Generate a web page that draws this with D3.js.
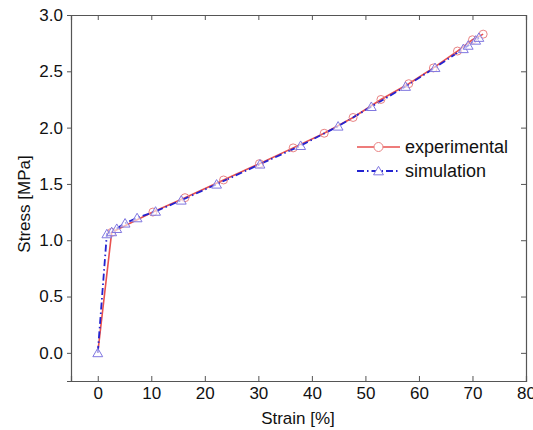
<!DOCTYPE html>
<html>
<head>
<meta charset="utf-8">
<script src="https://cdn.jsdelivr.net/npm/d3@7"></script>
<style>
  html, body { margin: 0; padding: 0; background: #fff; }
  svg { display: block; font-family: "Liberation Sans", Arial, sans-serif; }
</style>
</head>
<body>
<svg id="chart" width="533" height="430"></svg>
<script>
// Tensile test: experimental curve vs. simulation
const expStrain = [0, 2.6, 10.3, 16.3, 23.5, 30.2, 36.5, 42.3, 47.7, 52.9, 58.1, 62.7, 67.2, 70.0, 72.0];
const expStress = [0, 1.07, 1.25, 1.378, 1.535, 1.68, 1.82, 1.95, 2.09, 2.25, 2.39, 2.53, 2.68, 2.78, 2.83];

const simStrain = [0, 1.7, 2.6, 3.55, 5.1, 7.35, 10.8, 15.6, 22.2, 30.3, 37.9, 44.9, 51.1, 57.5, 63.0, 68.3, 69.2, 70.6, 71.2];
const simStress = [0, 1.056, 1.074, 1.103, 1.151, 1.198, 1.256, 1.355, 1.497, 1.675, 1.84, 2.012, 2.186, 2.365, 2.532, 2.70, 2.73, 2.775, 2.80];

const xTicks = [0, 10, 20, 30, 40, 50, 60, 70, 80];
const yTicks = [0.0, 0.5, 1.0, 1.5, 2.0, 2.5, 3.0];
const seriesNames = ["experimental", "simulation"];

const svg = d3.select("#chart");
const m = { left: 71, top: 15, right: 526, bottom: 381 };

const x = d3.scaleLinear().domain([-5, 80]).range([m.left, m.right]);
const y = d3.scaleLinear().domain([-0.25, 3.0]).range([m.bottom, m.top]);

const frameColor = "#555";
const tickFont = 17;

// Bottom axis (ticks inward)
const gx = svg.append("g").attr("transform", `translate(0,${m.bottom})`)
  .call(d3.axisBottom(x).tickValues(xTicks).tickSize(-5).tickPadding(6).tickFormat(d3.format("d")));
// Left axis (ticks outward)
const gy = svg.append("g").attr("transform", `translate(${m.left},0)`)
  .call(d3.axisLeft(y).tickValues(yTicks).tickSize(4).tickPadding(4).tickFormat(d3.format(".1f")));
// Top and right mirror axes, ticks inward, no labels
const gt = svg.append("g").attr("transform", `translate(0,${m.top})`)
  .call(d3.axisTop(x).tickValues(xTicks).tickSize(-5).tickFormat(""));
const gr = svg.append("g").attr("transform", `translate(${m.right},0)`)
  .call(d3.axisRight(y).tickValues(yTicks).tickSize(-5).tickFormat(""));

[gx, gy, gt, gr].forEach(g => {
  g.select(".domain").attr("stroke", frameColor).attr("stroke-width", 1.2);
  g.selectAll(".tick line").attr("stroke", frameColor).attr("stroke-width", 1);
  g.selectAll(".tick text").attr("fill", "#111").attr("font-size", tickFont)
    .attr("font-family", "'Liberation Sans', Arial, sans-serif");
});

// Axis titles
svg.append("text").attr("x", 298).attr("y", 424)
  .attr("text-anchor", "middle").attr("font-size", 17).attr("fill", "#111")
  .text("Strain [%]");
svg.append("text").attr("transform", `translate(30,204) rotate(-90)`)
  .attr("text-anchor", "middle").attr("font-size", 17).attr("fill", "#111")
  .text("Stress [MPa]");

const expColor = "#e8514f";
const expMarker = "#e98383";
const simColor = "#2323d0";
const simMarker = "#8077e0";
const simDash = "7,3,1.5,3";

const expData = expStrain.map((s, i) => [s, expStress[i]]);
const simData = simStrain.map((s, i) => [s, simStress[i]]);
const line = d3.line().x(d => x(d[0])).y(d => y(d[1]));

const plot = svg.append("g");
plot.append("path").datum(expData).attr("d", line)
  .attr("fill", "none").attr("stroke", expColor).attr("stroke-width", 1.6);
plot.append("path").datum(simData).attr("d", line)
  .attr("fill", "none").attr("stroke", simColor).attr("stroke-width", 1.8)
  .attr("stroke-dasharray", simDash);

const circleR = 4;
const triSym = d3.symbol().type(d3.symbolTriangle).size(42);

plot.selectAll("circle.exp").data(expData.slice(1)).join("circle").attr("class", "exp")
  .attr("cx", d => x(d[0])).attr("cy", d => y(d[1])).attr("r", circleR)
  .attr("fill", "none").attr("stroke", expMarker).attr("stroke-width", 1);
plot.selectAll("path.sim").data(simData).join("path").attr("class", "sim")
  .attr("d", triSym).attr("transform", d => `translate(${x(d[0])},${y(d[1]) + 1})`)
  .attr("fill", "#fff").attr("fill-opacity", 0.6).attr("stroke", simMarker).attr("stroke-width", 1);

// Legend
const lg = svg.append("g");
const lx0 = 357, lx1 = 400, ly = [147, 171];
lg.append("line").attr("x1", lx0).attr("x2", lx1).attr("y1", ly[0]).attr("y2", ly[0])
  .attr("stroke", expColor).attr("stroke-width", 1.6);
lg.append("circle").attr("cx", (lx0 + lx1) / 2).attr("cy", ly[0]).attr("r", circleR + 0.5)
  .attr("fill", "#fff").attr("stroke", expMarker).attr("stroke-width", 1);
lg.append("line").attr("x1", lx0).attr("x2", lx1).attr("y1", ly[1]).attr("y2", ly[1])
  .attr("stroke", simColor).attr("stroke-width", 1.8).attr("stroke-dasharray", simDash);
lg.append("path").attr("d", triSym).attr("transform", `translate(${(lx0 + lx1) / 2},${ly[1] + 1})`)
  .attr("fill", "#fff").attr("stroke", simMarker).attr("stroke-width", 1);
seriesNames.forEach((name, i) => {
  lg.append("text").attr("x", 405).attr("y", ly[i] + 6).attr("font-size", 18).attr("fill", "#111")
    .text(name);
});
</script>
</body>
</html>
